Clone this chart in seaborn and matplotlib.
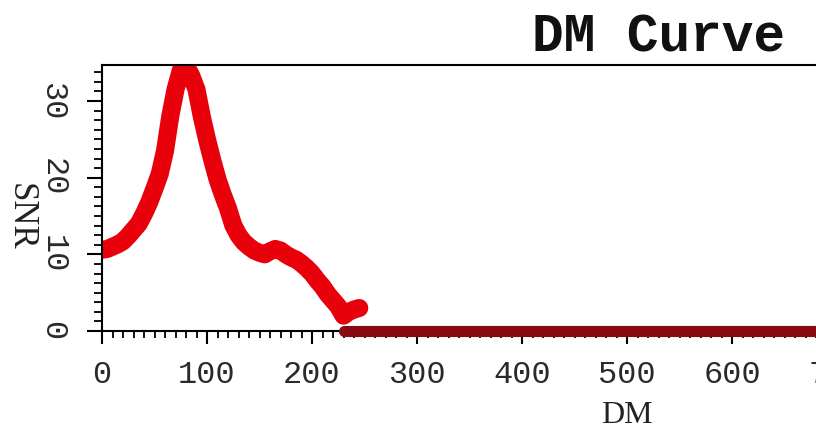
import matplotlib
matplotlib.use("Agg")
import matplotlib.pyplot as plt
from matplotlib.ticker import MultipleLocator, AutoMinorLocator
import seaborn as sns
import pandas as pd

# ---- data ----
curve_dm = [0, 5, 10, 15, 20, 25, 30, 35, 40, 45, 50, 55, 60, 65, 70, 75, 80,
            85, 90, 95, 100, 105, 110, 115, 120, 125, 130, 135, 140, 145, 150,
            155, 160, 165, 170, 175, 180, 185, 190, 195, 200, 205, 210, 215,
            220, 225, 230, 235, 240, 245]
curve_snr = [10.6, 10.7, 11.0, 11.3, 11.7, 12.4, 13.2, 14.0, 15.3, 16.8, 18.6,
             20.5, 23.5, 28.0, 31.5, 34.0, 34.6, 33.3, 31.5, 28.0, 25.0, 22.3,
             19.8, 17.8, 16.0, 13.8, 12.5, 11.6, 11.0, 10.5, 10.2, 10.0, 10.4,
             10.7, 10.5, 10.0, 9.6, 9.3, 8.8, 8.2, 7.5, 6.6, 5.8, 4.8, 4.0,
             3.2, 2.0, 2.5, 2.8, 3.0]
zero_dm = [230, 1060]
zero_snr = [0, 0]
x_ticks = [0, 100, 200, 300, 400, 500, 600, 700, 800, 900, 1000]
y_ticks = [0, 10, 20, 30]
title = "DM Curve"
x_label = "DM"
y_label = "SNR"

curve = pd.DataFrame({"DM": curve_dm, "SNR": curve_snr})
zeros = pd.DataFrame({"DM": zero_dm, "SNR": zero_snr})

sns.set_style("ticks")
plt.rcParams["font.family"] = ["Liberation Mono", "DejaVu Sans"]

W, H = 816, 432
fig = plt.figure(figsize=(W / 100, H / 100), dpi=100)
ax = fig.add_axes([102 / W, (H - 331) / H, 1112 / W, 266 / H])

sns.lineplot(data=curve, x="DM", y="SNR", ax=ax, color="#e8000b",
             linewidth=13, solid_capstyle="round", solid_joinstyle="round",
             sort=False, estimator=None)
sns.lineplot(data=zeros, x="DM", y="SNR", ax=ax, color="#860a0f",
             linewidth=8, clip_on=False, zorder=3, estimator=None)

ax.set_xlim(0, 1059)
ax.set_ylim(0, 34.7)
ax.set_xticks(x_ticks)
ax.set_yticks(y_ticks)
ax.xaxis.set_minor_locator(MultipleLocator(10))
ax.yaxis.set_minor_locator(AutoMinorLocator(8))

for s in ["left", "bottom", "top"]:
    ax.spines[s].set_color("black")
    ax.spines[s].set_linewidth(1.5)
ax.spines["right"].set_visible(False)

ax.tick_params(axis="x", which="major", direction="out", length=9, width=1.5,
               pad=12, labelsize=23, colors="black", labelcolor="#2a2a2a")
ax.tick_params(axis="x", which="minor", direction="out", length=5, width=1.3,
               colors="black")
ax.tick_params(axis="y", which="major", direction="out", length=11, width=1.5,
               pad=14, labelsize=23, labelrotation=-90, colors="black",
               labelcolor="#2a2a2a")
ax.tick_params(axis="y", which="minor", direction="out", length=6, width=1.3,
               colors="black")
for lab in ax.get_yticklabels():
    lab.set_va("center")

ax.set_xlabel(x_label, fontsize=23, color="#222222",
              fontfamily="Liberation Serif")
ax.xaxis.set_label_coords((627 - 102) / 1112, -(430 - 331) / 266)
ax.xaxis.label.set_va("bottom")
ax.set_ylabel(y_label, fontsize=25, color="#222222", rotation=270,
              va="center", ha="center", fontfamily="Liberation Serif")
ax.yaxis.set_label_coords((20 - 102) / 1112, (331 - 217) / 266)

ax.set_title(title, fontfamily="Liberation Mono", fontweight="bold",
             fontsize=38, pad=10, color="#111111")

fig.savefig("out.png", dpi=100)
